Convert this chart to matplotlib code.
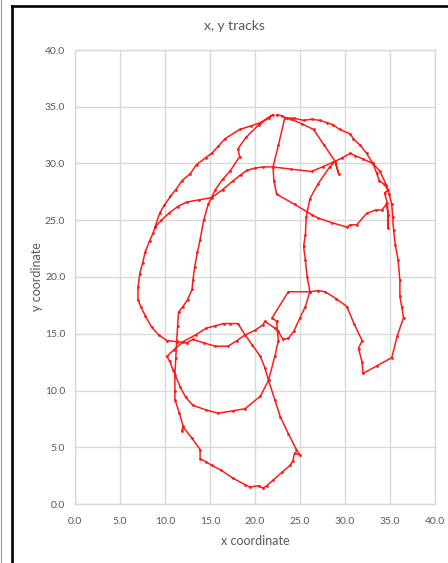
import numpy as np
import matplotlib.pyplot as plt
from matplotlib.lines import Line2D

plt.rcParams['font.family'] = ['Lato', 'DejaVu Sans']

# track legs (x, y) in walking order
leg_top_east = [(22.4, 34.3), (23.0, 34.2), (23.5, 34.0), (24.3, 34.0), (25.4, 33.8), (26.3, 33.9),
                (27.2, 33.8), (28.0, 33.6), (28.7, 33.4), (29.4, 33.0), (30.6, 32.6), (30.9, 32.2),
                (31.7, 31.6), (32.4, 30.9), (33.1, 30.0), (33.5, 29.2), (33.8, 28.5), (34.3, 28.2),
                (34.8, 27.7), (34.4, 27.4), (34.7, 26.5), (34.8, 25.5), (34.8, 24.3), (34.8, 25.5),
                (34.6, 26.4)]
leg_mid_west = [(34.1, 25.9), (33.4, 25.9), (32.4, 25.6), (31.3, 24.6), (30.6, 24.6), (30.2, 24.4),
                (28.5, 24.8), (27.0, 25.2), (26.3, 25.5), (24.4, 26.4), (22.4, 27.3), (22.1, 28.5),
                (22.0, 29.7), (22.6, 31.6), (23.3, 34.0), (24.0, 33.9), (25.2, 33.5), (26.5, 33.0),
                (27.7, 31.6), (28.9, 30.2), (29.3, 29.1), (28.9, 30.2), (27.5, 29.7), (26.3, 29.3),
                (24.0, 29.5), (22.0, 29.7)]
leg_west = [(20.9, 29.7), (20.0, 29.6), (19.1, 29.4), (18.4, 29.0), (17.6, 28.5), (16.4, 27.7),
            (15.2, 27.0), (13.8, 26.8), (12.4, 26.6), (11.4, 26.2), (10.4, 25.6), (9.6, 25.0),
            (8.9, 24.4), (8.7, 23.9), (8.3, 23.2), (7.8, 22.2), (7.5, 21.2), (7.2, 20.3),
            (7.0, 19.1), (7.0, 18.0), (7.3, 17.4), (7.8, 16.6), (8.5, 15.6), (9.3, 14.9),
            (10.2, 14.4), (11.3, 14.3), (12.4, 14.2), (13.1, 14.5), (14.3, 14.2), (15.6, 13.9),
            (17.0, 13.9), (18.0, 14.4), (18.9, 14.9)]
leg_circle = [(18.1, 15.9), (17.2, 15.9), (16.5, 15.9), (15.6, 15.7), (14.6, 15.5), (13.4, 14.9),
              (12.0, 14.3), (11.0, 13.6), (10.2, 13.0), (10.5, 12.6), (10.9, 11.8), (11.7, 10.3),
              (12.3, 9.4), (13.1, 8.7), (14.5, 8.3), (15.9, 8.0), (17.5, 8.2), (18.9, 8.4),
              (20.6, 9.5), (21.5, 10.9), (21.1, 12.0), (20.6, 13.0), (19.7, 14.0), (18.9, 14.9)]
leg_east = [(20.0, 15.3), (20.9, 15.8), (21.1, 16.1), (22.2, 15.5), (22.6, 15.2), (23.1, 14.5),
            (23.7, 14.6), (24.3, 15.2), (25.0, 16.4), (25.6, 17.4), (26.1, 18.7), (27.0, 18.8),
            (27.8, 18.7), (29.0, 18.1), (30.2, 17.4), (31.0, 15.9), (31.9, 14.4), (31.5, 13.7),
            (31.9, 12.5), (32.0, 11.5), (33.6, 12.2), (35.2, 12.9), (35.8, 14.8), (36.5, 16.4),
            (36.3, 17.4), (36.1, 18.3), (36.1, 19.7), (35.9, 21.5), (35.6, 22.8), (35.4, 24.1),
            (35.3, 25.3), (35.2, 26.4), (34.9, 27.3), (34.6, 28.1), (33.9, 29.3), (33.1, 30.0),
            (32.0, 30.4), (31.1, 30.7), (30.6, 30.9), (29.7, 30.5), (28.9, 30.2), (28.3, 29.7),
            (27.0, 28.2), (26.1, 26.9), (25.7, 25.3), (25.6, 23.7), (25.4, 22.7), (25.6, 21.5),
            (25.8, 20.0), (26.1, 18.7), (23.7, 18.7), (21.9, 16.4), (22.4, 16.1), (22.6, 14.4),
            (22.2, 13.0), (21.5, 10.9)]
leg_south = [(22.2, 9.2), (22.8, 7.7), (23.7, 6.2), (24.6, 4.8), (25.0, 4.3), (24.4, 4.5),
             (24.2, 3.8), (23.9, 3.4), (23.0, 2.8), (22.0, 2.1), (21.3, 1.6), (20.9, 1.4),
             (20.4, 1.6), (19.4, 1.5), (18.9, 1.7), (17.5, 2.3), (16.2, 3.0), (15.2, 3.4),
             (14.6, 3.7), (13.9, 4.0), (13.9, 4.8), (13.0, 5.8), (12.0, 6.8), (11.9, 6.4),
             (12.0, 6.9), (11.6, 8.0), (11.1, 9.2), (11.1, 10.0), (11.1, 11.4), (11.2, 12.9),
             (11.3, 14.4), (11.4, 15.7), (11.5, 16.9), (12.0, 17.4), (12.5, 18.0), (13.0, 18.9),
             (13.1, 19.7), (13.3, 20.9), (13.6, 22.2), (13.9, 23.3), (14.3, 25.0), (14.8, 26.4),
             (15.6, 27.7), (16.4, 28.6), (17.2, 29.3), (18.3, 30.6), (18.1, 31.3), (19.0, 32.3),
             (20.4, 33.4), (21.5, 34.0), (22.0, 34.3)]
leg_home = [(21.6, 34.1), (20.6, 33.6), (19.5, 33.3), (18.3, 33.0), (16.7, 32.2), (15.9, 31.5),
            (15.2, 30.9), (14.5, 30.5), (13.5, 29.9), (12.8, 29.1), (11.9, 28.5), (11.2, 27.7),
            (10.6, 27.1), (9.9, 26.3), (9.4, 25.6), (8.9, 24.4)]

legs = [leg_top_east, leg_mid_west, leg_west, leg_circle, leg_east, leg_south, leg_home]
track = np.array([p for leg in legs for p in leg])

ticks = np.arange(0, 45, 5)
tick_labels = [f'{t:.1f}' for t in ticks]

grey = '#595959'
grid_c = '#D9D9D9'

fig = plt.figure(figsize=(4.48, 5.63), dpi=100)
ax = fig.add_axes([75/448, 59/563, 360/448, 454/563])

ax.plot(track[:, 0], track[:, 1], color='#FF1A1A', lw=1.1, marker='o', ms=1.0,
        solid_joinstyle='round')

ax.set_xlim(0, 40)
ax.set_ylim(0, 40)
ax.set_xticks(ticks)
ax.set_yticks(ticks)
ax.set_xticklabels(tick_labels)
ax.set_yticklabels(tick_labels)
ax.tick_params(length=0, labelsize=7.5, labelcolor=grey)
ax.tick_params(axis='x', pad=9)
ax.tick_params(axis='y', pad=7)
ax.grid(True, color=grid_c, lw=1)
ax.set_axisbelow(True)
for s in ax.spines.values():
    s.set_color(grid_c)
    s.set_linewidth(1)

fig.text(234/448, 1 - 26/563, 'x, y tracks', ha='center', va='center', fontsize=10, color=grey)
fig.text(255/448, 1 - 541/563, 'x coordinate', ha='center', va='center', fontsize=9, color=grey)
fig.text(37/448, 1 - 277/563, 'y coordinate', ha='center', va='center', fontsize=9,
         color=grey, rotation=90)

# chart frame
fig.add_artist(Line2D([11.8/448, 11.8/448], [0, 1 - 5.5/563], color='black', lw=1.9,
                      transform=fig.transFigure))
fig.add_artist(Line2D([11.8/448, 1], [1 - 5.5/563, 1 - 5.5/563], color='black', lw=1.9,
                      transform=fig.transFigure))
fig.add_artist(Line2D([0.8/448, 0.8/448], [0, 1], color='#9A9A9A', lw=0.8,
                      transform=fig.transFigure))

fig.savefig('out.png', dpi=100)
